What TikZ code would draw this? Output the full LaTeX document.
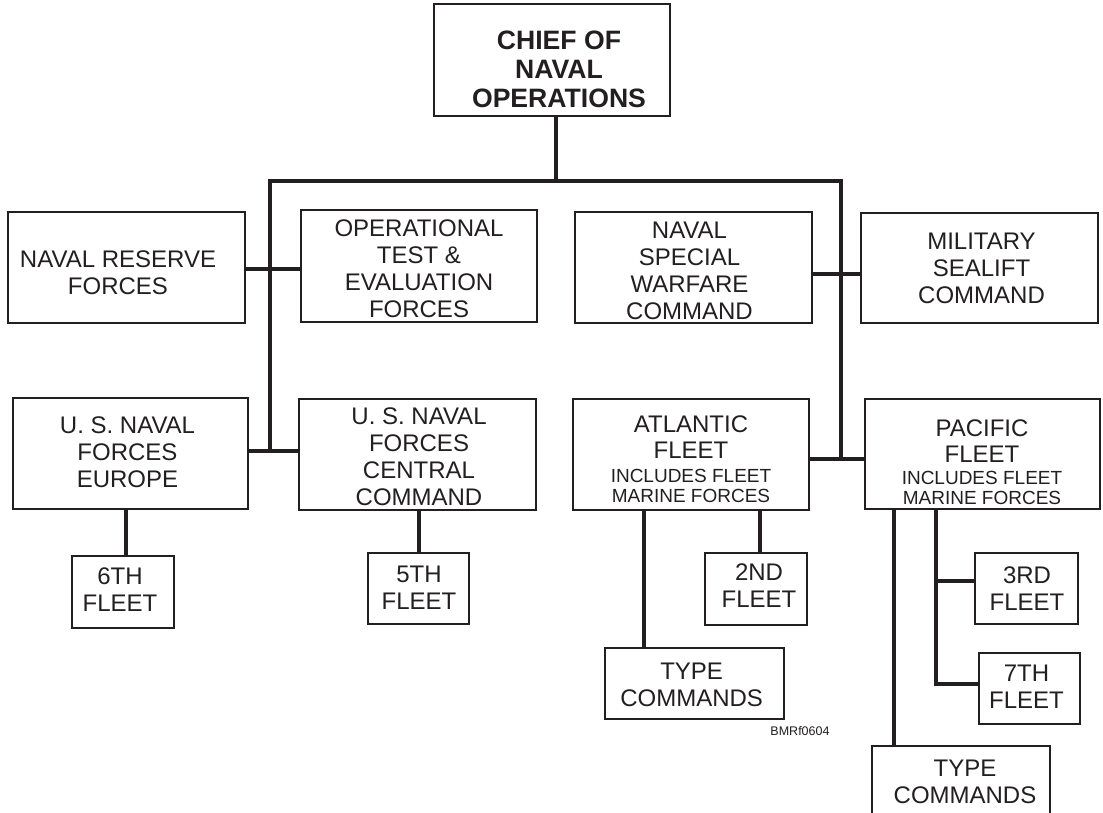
\documentclass[tikz,border=0pt]{standalone}
\usepackage{fontspec}
\setmainfont{Liberation Sans}
\definecolor{ink}{RGB}{35,31,32}
\begin{document}
\begin{tikzpicture}[x=1pt,y=-1pt,
  box/.style={draw=ink, line width=2.6pt, inner sep=0pt, fill=none},
  conn/.style={draw=ink, line width=4.6pt, line join=miter},
  txt/.style={align=center, inner sep=0pt, text=ink, font=\fontsize{24}{27}\selectfont},
  bigtxt/.style={align=center, inner sep=0pt, text=ink, font=\fontsize{26.6}{29}\selectfont\bfseries},
  fleettxt/.style={align=center, inner sep=0pt, text=ink, font=\fontsize{24}{26}\selectfont},
  tagtxt/.style={inner sep=0pt, text=ink, font=\fontsize{12.5}{14}\selectfont}]
\useasboundingbox (0,0) rectangle (1103,813);
\clip (0,0) rectangle (1103,813);
\fill[white] (0,0) rectangle (1103,813);

% boxes
\node[box, minimum width=236pt, minimum height=112pt] (cno) at (552,60) {};
\node[box, minimum width=237pt, minimum height=111pt] (nrf) at (126.5,267.5) {};
\node[box, minimum width=236pt, minimum height=112pt] (ote) at (419,266) {};
\node[box, minimum width=237pt, minimum height=111pt] (nsw) at (693.5,267.5) {};
\node[box, minimum width=237pt, minimum height=110pt] (msc) at (979.5,268) {};
\node[box, minimum width=235pt, minimum height=111pt] (eur) at (130.5,453.5) {};
\node[box, minimum width=237pt, minimum height=111pt] (cen) at (417.5,454.5) {};
\node[box, minimum width=236pt, minimum height=111pt] (atl) at (691,454.5) {};
\node[box, minimum width=235pt, minimum height=110pt] (pac) at (982.5,454) {};
\node[box, minimum width=102pt, minimum height=72pt] (f6) at (123,592) {};
\node[box, minimum width=101pt, minimum height=71pt] (f5) at (418.5,588.5) {};
\node[box, minimum width=102pt, minimum height=72pt] (f2) at (756,589) {};
\node[box, minimum width=179pt, minimum height=71pt] (tca) at (694.5,683.5) {};
\node[box, minimum width=103pt, minimum height=71pt] (f3) at (1026.5,588.5) {};
\node[box, minimum width=101pt, minimum height=71pt] (f7) at (1029.5,688.5) {};
\node[box, minimum width=178pt, minimum height=72pt] (tcp) at (961,782) {};

% texts
\node[bigtxt] (cnot) at (559,69) {CHIEF OF\\NAVAL\\OPERATIONS};
\node[txt] (nrft) at (118,273) {NAVAL RESERVE\\FORCES};
\node[txt] (otet) at (419,268.5) {OPERATIONAL\\TEST \&\\EVALUATION\\FORCES};
\node[txt] (nswt) at (689.5,270.5) {NAVAL\\SPECIAL\\WARFARE\\COMMAND};
\node[txt] (msct) at (981.5,268) {MILITARY\\SEALIFT\\COMMAND};
\node[txt] (eurt) at (127.5,452) {U. S. NAVAL\\FORCES\\EUROPE};
\node[txt] (cent) at (419,456.5) {U. S. NAVAL\\FORCES\\CENTRAL\\COMMAND};
\node[fleettxt] (atlt) at (691,459.5) {ATLANTIC\\FLEET\\[-2pt]{\fontsize{19}{20}\selectfont INCLUDES FLEET}\\[-6pt]{\fontsize{19}{20}\selectfont MARINE FORCES}};
\node[fleettxt] (pact) at (982,462.5) {PACIFIC\\FLEET\\[-4pt]{\fontsize{19}{20}\selectfont INCLUDES FLEET}\\[-6pt]{\fontsize{19}{20}\selectfont MARINE FORCES}};
\node[txt] (f6t) at (120,590) {6TH\\FLEET};
\node[txt] (f5t) at (419,588) {5TH\\FLEET};
\node[txt] (f2t) at (759,585.5) {2ND\\FLEET};
\node[txt] (tcat) at (691.6,685) {TYPE\\COMMANDS};
\node[txt] (f3t) at (1027,588.5) {3RD\\FLEET};
\node[txt] (f7t) at (1026.5,686.5) {7TH\\FLEET};
\node[txt] (tcpt) at (965,781.5) {TYPE\\COMMANDS};
\node[tagtxt] (tag) at (800,731.5) {BMRf0604};

% junction coordinates
\coordinate (jt) at (556,181);
\coordinate (jl) at (270,181);
\coordinate (jr) at (841,181);
\coordinate (jl2) at (270,269);
\coordinate (jl3) at (270,451);
\coordinate (jr2) at (841,274);
\coordinate (jr3) at (841,459);
\coordinate (c6) at (126,0);
\coordinate (c5) at (419,0);
\coordinate (c2) at (760,0);
\coordinate (ta) at (644,0);
\coordinate (pb3) at (936,581);
\coordinate (pb7) at (936,684);
\coordinate (tp) at (894,0);

% connectors
\draw[conn] (cno.south -| jt) -- (jt);
\draw[conn] (jl3) -- (jl) -- (jr) -- (jr3);
\draw[conn] (nrf.east |- jl2) -- (ote.west |- jl2);
\draw[conn] (nsw.east |- jr2) -- (msc.west |- jr2);
\draw[conn] (eur.east |- jl3) -- (cen.west |- jl3);
\draw[conn] (atl.east |- jr3) -- (pac.west |- jr3);
\draw[conn] (eur.south -| c6) -- (f6.north -| c6);
\draw[conn] (cen.south -| c5) -- (f5.north -| c5);
\draw[conn] (atl.south -| c2) -- (f2.north -| c2);
\draw[conn] (atl.south -| ta) -- (tca.north -| ta);
\draw[conn] (pac.south -| pb3) -- (pb7) -- (pb7 -| f7.west);
\draw[conn] (pb3) -- (pb3 -| f3.west);
\draw[conn] (pac.south -| tp) -- (tcp.north -| tp);
\end{tikzpicture}
\end{document}
